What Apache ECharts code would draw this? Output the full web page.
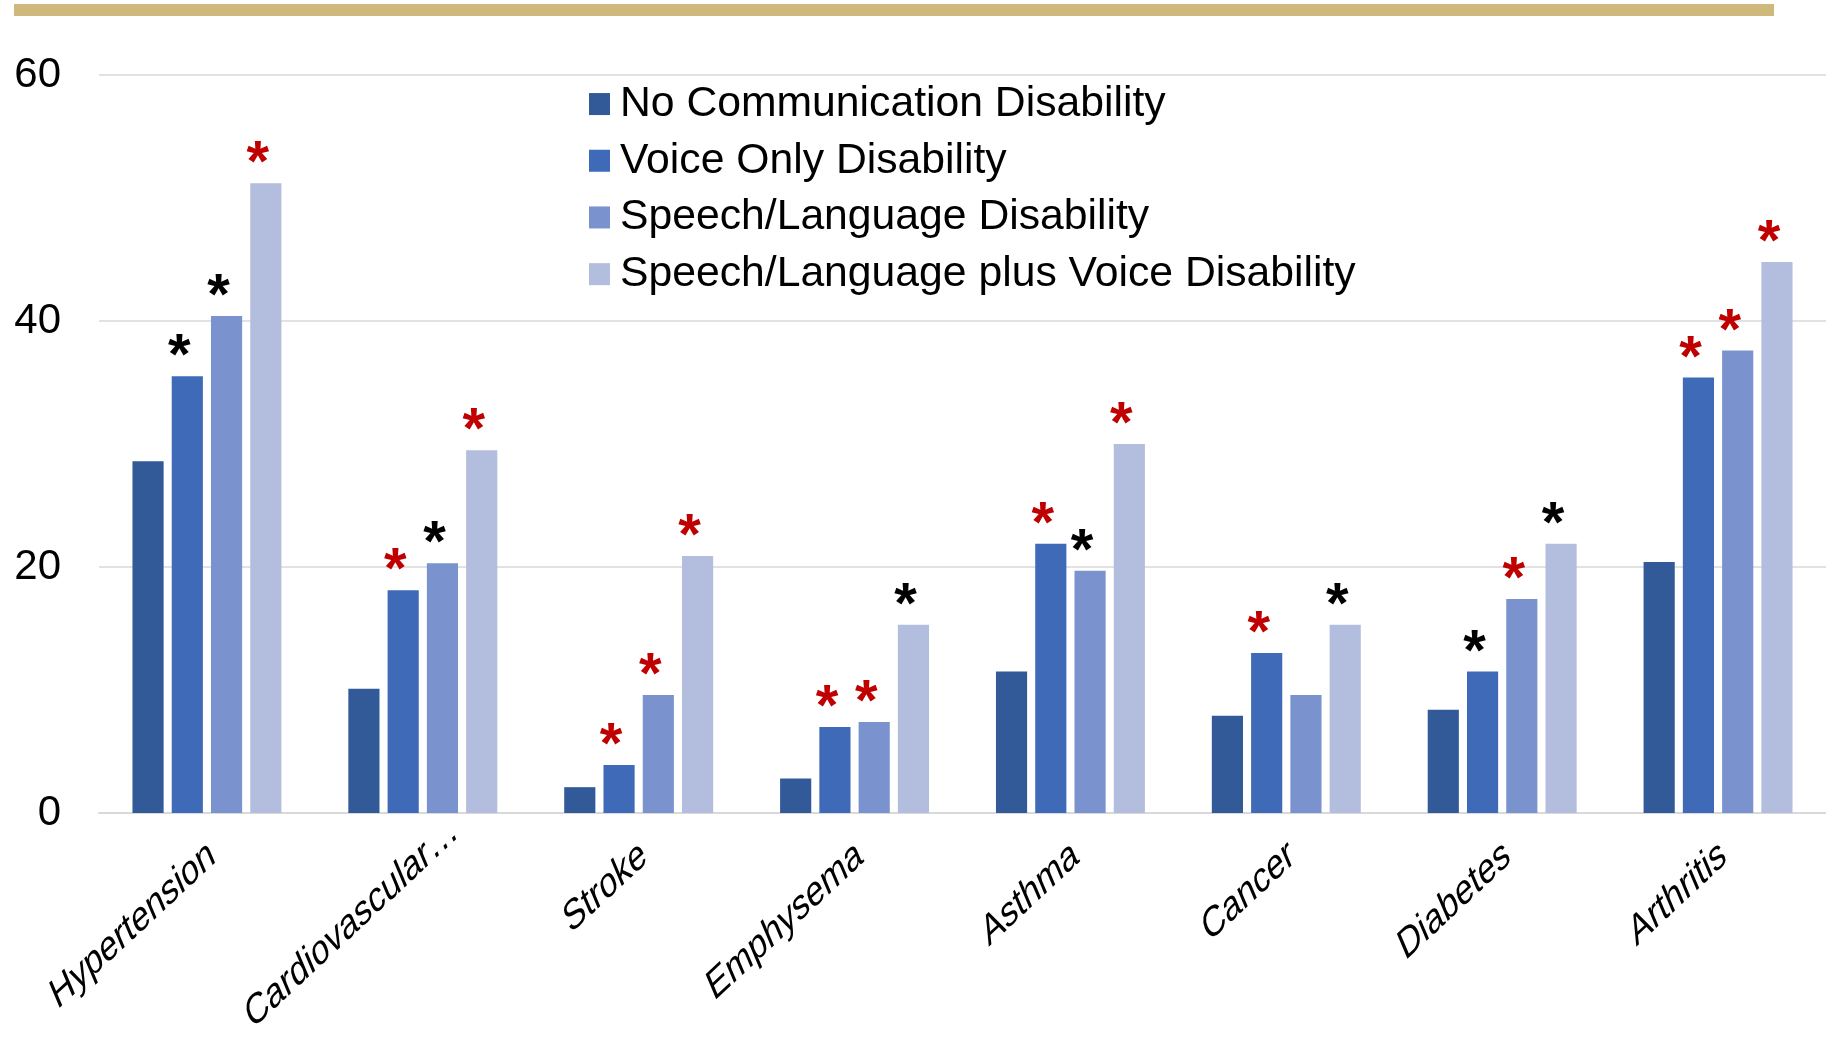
<!DOCTYPE html>
<html>
<head>
<meta charset="utf-8">
<script src="https://cdn.jsdelivr.net/npm/echarts@6/dist/echarts.min.js"></script>
<style>
  html, body { margin: 0; padding: 0; background: #ffffff; }
  #chart { width: 1826px; height: 1037px; }
</style>
</head>
<body>
<div id="chart"></div>
<script>
// Prevalence (%) of chronic conditions by communication disability group
const categories = ['Hypertension', 'Cardiovascular\u2026', 'Stroke', 'Emphysema', 'Asthma', 'Cancer', 'Diabetes', 'Arthritis'];
const seriesNames = ['No Communication Disability', 'Voice Only Disability', 'Speech/Language Disability', 'Speech/Language plus Voice Disability'];

const noCommunication = [28.6, 10.1, 2.1, 2.8, 11.5, 7.9, 8.4, 20.4];
const voiceOnly       = [35.5, 18.1, 3.9, 7.0, 21.9, 13.0, 11.5, 35.4];
const speechLanguage  = [40.4, 20.3, 9.6, 7.4, 19.7, 9.6, 17.4, 37.6];
const speechPlusVoice = [51.2, 29.5, 20.9, 15.3, 30.0, 15.3, 21.9, 44.8];

// Significance markers drawn above bars: 'r' = red asterisk, 'k' = black asterisk, '' = none
const noCommunicationSig = ['', '', '', '', '', '', '', ''];
const voiceOnlySig       = ['k', 'r', 'r', 'r', 'r', 'r', 'k', 'r'];
const speechLanguageSig  = ['k', 'k', 'r', 'r', 'k', '', 'r', 'r'];
const speechPlusVoiceSig = ['r', 'r', 'r', 'k', 'r', 'k', 'k', 'r'];

const yTicks = { min: 0, max: 60, interval: 20 };

const colors = ['#325a99', '#3f6ab7', '#7a93ce', '#b3bede'];
const FONT = '"Liberation Sans", Arial, sans-serif';

function makeSeries(name, values, sig, color) {
  return {
    name: name,
    type: 'bar',
    data: values,
    barGap: '26%',
    barCategoryGap: '31%',
    itemStyle: { color: color },
    label: {
      show: true,
      position: 'top',
      distance: 0,
      offset: [-8, 11],
      formatter: function (p) {
        const s = sig[p.dataIndex];
        if (s === 'r') return '{r|*}';
        if (s === 'k') return '{k|*}';
        return '';
      },
      rich: {
        r: { color: '#c00000', fontSize: 58, fontWeight: 'bold', fontFamily: FONT },
        k: { color: '#000000', fontSize: 58, fontWeight: 'bold', fontFamily: FONT }
      }
    }
  };
}

const topRule = {
  id: 'top-rule',
  type: 'rect',
  shape: { x: 14, y: 4, width: 1760, height: 12 },
  style: { fill: '#cfb87c' },
  silent: true
};

const chart = echarts.init(document.getElementById('chart'), null, { renderer: 'canvas' });

chart.setOption({
  animation: false,
  backgroundColor: '#ffffff',
  color: colors,
  textStyle: { fontFamily: FONT },
  graphic: [topRule],
  legend: {
    orient: 'vertical',
    left: 589,
    top: 80.7,
    padding: 0,
    icon: 'rect',
    itemWidth: 21,
    itemHeight: 22,
    itemGap: 10,
    textStyle: { fontSize: 42.7, color: '#000000', fontFamily: FONT, lineHeight: 46.7, padding: [0, 0, 0, 5] },
    data: seriesNames
  },
  grid: {
    left: 99,
    right: 0,
    top: 75,
    bottom: 224,
    containLabel: false,
    outerBoundsMode: 'none'
  },
  xAxis: {
    type: 'category',
    data: categories,
    axisLine: { show: true, lineStyle: { color: '#d9d9d9', width: 2 } },
    axisTick: { show: false },
    axisLabel: { show: false }
  },
  yAxis: {
    type: 'value',
    min: yTicks.min,
    max: yTicks.max,
    interval: yTicks.interval,
    axisLine: { show: false },
    axisTick: { show: false },
    splitLine: { lineStyle: { color: '#d9d9d9', width: 1.5 } },
    axisLabel: {
      margin: 38,
      fontSize: 42,
      color: '#000000',
      fontFamily: FONT
    }
  },
  series: [
    makeSeries(seriesNames[0], noCommunication, noCommunicationSig, colors[0]),
    makeSeries(seriesNames[1], voiceOnly, voiceOnlySig, colors[1]),
    makeSeries(seriesNames[2], speechLanguage, speechLanguageSig, colors[2]),
    makeSeries(seriesNames[3], speechPlusVoice, speechPlusVoiceSig, colors[3])
  ]
});

// Slanted category labels, anchored at each category's pixel position on the axis.
// A truncated name keeps its word end at the anchor and lets the ellipsis run past it.
const axisY = chart.convertToPixel({ yAxisIndex: 0 }, 0);
const labelTransform = { rotation: 43 * Math.PI / 180, skewX: -20 * Math.PI / 180 };
const labelStyle = { fontSize: 37, fontFamily: FONT, fill: '#000000', verticalAlign: 'top' };

const categoryLabels = [];
categories.forEach(function (name, i) {
  const x = chart.convertToPixel({ xAxisIndex: 0 }, name) - 2;
  const y = axisY + 20;
  const truncated = name.endsWith('\u2026');
  const main = truncated ? name.slice(0, -1) : name;
  categoryLabels.push(Object.assign({
    id: 'cat-' + i, type: 'text', x: x, y: y, silent: true,
    style: Object.assign({ text: main, align: 'right' }, labelStyle)
  }, labelTransform));
  if (truncated) {
    categoryLabels.push(Object.assign({
      id: 'cat-tail-' + i, type: 'text', x: x, y: y, silent: true,
      style: Object.assign({ text: '\u2026', align: 'left' }, labelStyle)
    }, labelTransform));
  }
});
chart.setOption({ graphic: [topRule].concat(categoryLabels) });
</script>
</body>
</html>
